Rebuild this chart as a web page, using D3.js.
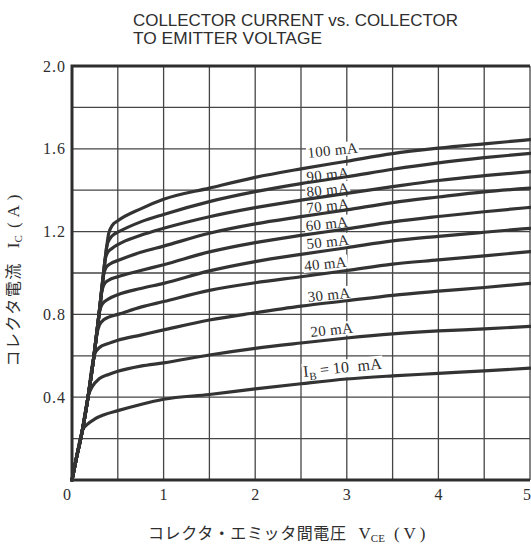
<!DOCTYPE html>
<html lang="ja">
<head>
<meta charset="UTF-8">
<title>Collector current vs. collector to emitter voltage</title>
<script src="https://cdn.jsdelivr.net/npm/d3@7"></script>
<style>
  body { margin: 0; background: #fff; }
</style>
</head>
<body>
<div id="chart"></div>
<script>
// values: [VCE (V), IC (A)]
const ib10 = [[0,0],[0.05,0.11],[0.09,0.2],[0.12,0.245],[0.17,0.27],[0.25,0.295],[0.35,0.315],[0.5,0.335],[0.75,0.365],[1,0.39],[1.5,0.413],[2,0.44],[2.5,0.465],[3,0.488],[3.5,0.503],[4,0.515],[4.5,0.527],[5,0.54]];
const ib20 = [[0,0],[0.05,0.11],[0.1,0.21],[0.15,0.34],[0.18,0.41],[0.22,0.45],[0.3,0.49],[0.4,0.51],[0.5,0.525],[0.75,0.55],[1,0.566],[1.5,0.604],[2,0.636],[2.5,0.662],[3,0.686],[3.5,0.706],[4,0.72],[4.5,0.73],[5,0.742]];
const ib30 = [[0,0],[0.05,0.11],[0.1,0.21],[0.175,0.4],[0.22,0.55],[0.25,0.61],[0.3,0.64],[0.4,0.66],[0.5,0.675],[0.75,0.7],[1,0.725],[1.5,0.773],[2,0.808],[2.5,0.84],[3,0.866],[3.5,0.892],[4,0.912],[4.5,0.93],[5,0.95]];
const ib40 = [[0,0],[0.05,0.11],[0.1,0.21],[0.175,0.4],[0.24,0.6],[0.27,0.7],[0.3,0.75],[0.35,0.775],[0.4,0.787],[0.5,0.8],[0.75,0.835],[1,0.862],[1.5,0.916],[2,0.953],[2.5,0.982],[3,1.012],[3.5,1.043],[4,1.063],[4.5,1.083],[5,1.103]];
const ib50 = [[0,0],[0.05,0.11],[0.1,0.21],[0.175,0.4],[0.24,0.6],[0.28,0.74],[0.3,0.81],[0.33,0.85],[0.4,0.875],[0.5,0.895],[0.75,0.925],[1,0.95],[1.5,1.01],[2,1.055],[2.5,1.09],[3,1.122],[3.5,1.155],[4,1.177],[4.5,1.197],[5,1.216]];
const ib60 = [[0,0],[0.05,0.11],[0.1,0.21],[0.175,0.4],[0.24,0.6],[0.3,0.82],[0.325,0.91],[0.35,0.945],[0.4,0.965],[0.5,0.982],[0.75,1.012],[1,1.04],[1.5,1.102],[2,1.147],[2.5,1.182],[3,1.213],[3.5,1.247],[4,1.273],[4.5,1.296],[5,1.317]];
const ib70 = [[0,0],[0.05,0.11],[0.1,0.21],[0.175,0.4],[0.24,0.6],[0.3,0.82],[0.34,0.98],[0.37,1.025],[0.42,1.045],[0.5,1.06],[0.75,1.1],[1,1.13],[1.5,1.192],[2,1.237],[2.5,1.272],[3,1.305],[3.5,1.34],[4,1.367],[4.5,1.392],[5,1.41]];
const ib80 = [[0,0],[0.05,0.11],[0.1,0.21],[0.175,0.4],[0.24,0.6],[0.3,0.82],[0.34,0.98],[0.36,1.06],[0.39,1.1],[0.44,1.12],[0.5,1.137],[0.75,1.182],[1,1.216],[1.5,1.272],[2,1.316],[2.5,1.352],[3,1.385],[3.5,1.417],[4,1.447],[4.5,1.47],[5,1.49]];
const ib90 = [[0,0],[0.05,0.11],[0.1,0.21],[0.175,0.4],[0.24,0.6],[0.3,0.82],[0.34,0.98],[0.36,1.06],[0.38,1.13],[0.42,1.17],[0.46,1.187],[0.5,1.197],[0.75,1.247],[1,1.283],[1.5,1.345],[2,1.393],[2.5,1.432],[3,1.465],[3.5,1.501],[4,1.532],[4.5,1.557],[5,1.578]];
const ib100 = [[0,0],[0.05,0.11],[0.1,0.21],[0.175,0.4],[0.24,0.6],[0.3,0.82],[0.34,0.98],[0.36,1.06],[0.38,1.13],[0.4,1.19],[0.44,1.23],[0.5,1.252],[0.75,1.31],[1,1.356],[1.5,1.41],[2,1.462],[2.5,1.503],[3,1.54],[3.5,1.577],[4,1.603],[4.5,1.624],[5,1.644]];

const series = [ib10, ib20, ib30, ib40, ib50, ib60, ib70, ib80, ib90, ib100];
const curveNames = ["10 mA", "20 mA", "30 mA", "40 mA", "50 mA", "60 mA", "70 mA", "80 mA", "90 mA", "100 mA"];
// where each name sits (baseline start), in chart units
const nameAt = [[2.53,0.498],[2.61,0.691],[2.58,0.86],[2.54,1.01],[2.566,1.116],[2.556,1.203],[2.566,1.29],[2.566,1.367],[2.566,1.44],[2.576,1.556]];

const xTicks = [0, 1, 2, 3, 4, 5];
const yTicks = [0.4, 0.8, 1.2, 1.6, 2.0];
const xGrid = [0.5, 1, 1.5, 2, 2.5, 3, 3.5, 4, 4.5, 5];
const yGrid = [0.2, 0.4, 0.6, 0.8, 1.0, 1.2, 1.4, 1.6, 1.8];

const titleLines = ["COLLECTOR CURRENT vs. COLLECTOR", "TO EMITTER VOLTAGE"];

const W = 531, H = 547;
const margin = { top: 66, right: 1, bottom: 67, left: 72 };
const width = W - margin.left - margin.right;
const height = H - margin.top - margin.bottom;
const ink = "#2e2e2e";
const serif = "'Liberation Serif', 'DejaVu Serif', serif";
const jp = "'Noto Sans CJK JP', sans-serif";

const svg = d3.select("#chart").append("svg")
  .attr("width", W)
  .attr("height", H);

const x = d3.scaleLinear().domain([0, 5]).range([0, width]);
const y = d3.scaleLinear().domain([0, 2]).range([height, 0]);

// title
svg.append("g")
  .selectAll("text")
  .data(titleLines)
  .enter()
  .append("text")
  .attr("x", 133)
  .attr("y", (d, i) => 25.5 + i * 18)
  .attr("font-family", "'Liberation Sans', Arial, sans-serif")
  .attr("font-size", 17)
  .attr("fill", ink)
  .attr("textLength", (d, i) => i === 0 ? 325 : 189)
  .attr("lengthAdjust", "spacingAndGlyphs")
  .text(d => d);

const chart = svg.append("g")
  .attr("transform", `translate(${margin.left},${margin.top})`);

// grid
chart.append("g")
  .selectAll("line")
  .data(xGrid)
  .enter()
  .append("line")
  .attr("x1", d => x(d)).attr("x2", d => x(d))
  .attr("y1", 0).attr("y2", height)
  .attr("stroke", "#454545")
  .attr("stroke-width", 1.3);

chart.append("g")
  .selectAll("line")
  .data(yGrid)
  .enter()
  .append("line")
  .attr("x1", 0).attr("x2", width)
  .attr("y1", d => y(d)).attr("y2", d => y(d))
  .attr("stroke", "#454545")
  .attr("stroke-width", 1.3);

// frame
chart.append("path")
  .attr("d", `M${x(5)},${y(2)}H${x(0)}V${y(0)}H${x(5)}`)
  .attr("fill", "none")
  .attr("stroke", ink)
  .attr("stroke-width", 3);

// axes (labels only)
const xAxis = d3.axisBottom(x).tickValues(xTicks).tickSize(0).tickPadding(9).tickFormat(d3.format("d"));
const yAxis = d3.axisLeft(y).tickValues(yTicks).tickSize(0).tickPadding(6).tickFormat(d3.format(".1f"));

const xAxisG = chart.append("g")
  .attr("transform", `translate(0,${height})`)
  .call(xAxis);
const yAxisG = chart.append("g").call(yAxis);

[xAxisG, yAxisG].forEach(g => {
  g.select(".domain").remove();
  g.selectAll("text")
    .attr("font-family", serif)
    .attr("font-size", 16)
    .attr("letter-spacing", 1)
    .attr("fill", ink);
});
xAxisG.selectAll(".tick text").filter(d => d === 0).attr("dx", -5);
xAxisG.selectAll(".tick text").filter(d => d === 5).attr("dx", -3);

// label backgrounds sit under curves, text on top
const bgLayer = chart.append("g");
const curveLayer = chart.append("g");
const nameLayer = chart.append("g");

const line = d3.line()
  .x(d => x(d[0]))
  .y(d => y(d[1]))
  .curve(d3.curveMonotoneX);

curveLayer.selectAll("path")
  .data(series)
  .enter()
  .append("path")
  .attr("d", line)
  .attr("fill", "none")
  .attr("stroke", "#333")
  .attr("stroke-width", 3.2)
  .attr("stroke-linejoin", "round")
  .attr("stroke-linecap", "round");

curveNames.forEach((name, i) => {
  const p = nameAt[i];
  const tr = `translate(${x(p[0])},${y(p[1])}) rotate(-6)`;
  const t = nameLayer.append("text")
    .attr("transform", tr)
    .attr("font-family", serif)
    .attr("font-size", i === 0 ? 16 : 15)
    .attr("letter-spacing", 0.3)
    .attr("fill", ink);
  if (i === 0) {
    t.append("tspan").text("I");
    t.append("tspan").attr("font-size", 11).attr("dy", 4).text("B");
    t.append("tspan").attr("dy", -4).text("\u2009=\u200910\u2002mA");
  } else {
    t.text(name);
  }
  const b = t.node().getBBox();
  bgLayer.append("rect")
    .attr("transform", tr)
    .attr("x", b.x - 1).attr("y", b.y + 1)
    .attr("width", b.width + 2).attr("height", b.height - 2)
    .attr("fill", "#fff");
});

// y title
const yTitle = svg.append("text")
  .attr("transform", "translate(19,278) rotate(-90)")
  .attr("text-anchor", "middle")
  .attr("font-size", 16)
  .attr("fill", ink);
yTitle.append("tspan").attr("font-family", jp).attr("letter-spacing", 1.5).text("コレクタ電流");
yTitle.append("tspan").attr("font-family", serif).attr("font-size", 17).attr("dx", 14).text("I");
yTitle.append("tspan").attr("font-family", serif).attr("font-size", 11).attr("dy", 3).text("C");
yTitle.append("tspan").attr("font-family", serif).attr("font-size", 17).attr("dy", -3).attr("dx", 7).attr("letter-spacing", 5).text("(A)");

// x title
const xTitle = svg.append("text")
  .attr("x", 148)
  .attr("y", 539)
  .attr("font-size", 16)
  .attr("fill", ink);
xTitle.append("tspan").attr("font-family", jp).attr("letter-spacing", 0.6).text("コレクタ・エミッタ間電圧");
xTitle.append("tspan").attr("font-family", serif).attr("font-size", 17).attr("dx", 12).text("V");
xTitle.append("tspan").attr("font-family", serif).attr("font-size", 11).attr("dy", 3).text("CE");
xTitle.append("tspan").attr("font-family", serif).attr("font-size", 17).attr("dy", -3).attr("dx", 9).attr("letter-spacing", 4).text("(V)");
</script>
</body>
</html>
